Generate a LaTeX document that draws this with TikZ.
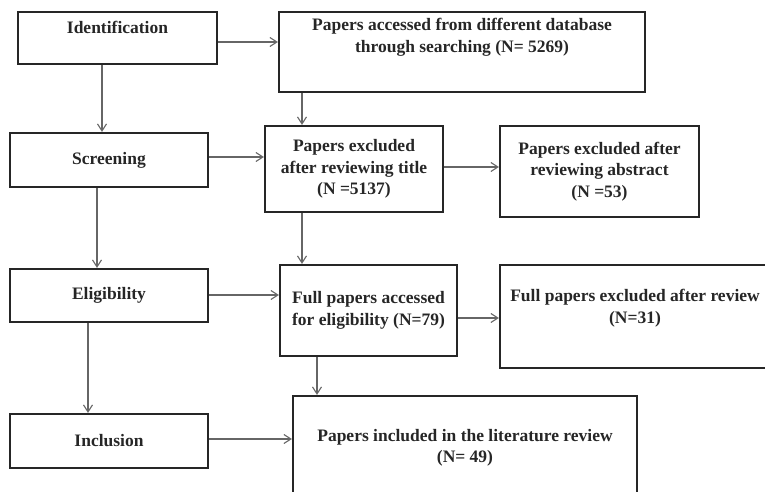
\documentclass[tikz,border=0pt]{standalone}
\usepackage{fontspec}
\setmainfont{Liberation Serif}
\usetikzlibrary{arrows.meta}

\begin{document}
\begin{tikzpicture}[x=1pt,y=-1pt,>={Straight Barb[length=7pt,width=9pt]},
    font=\fontsize{17.5}{21.5}\selectfont\bfseries,text=black!85,
    box/.style={draw=black!85,line width=2.2pt,align=center,inner sep=0pt},
    link/.style={->,draw=black!60,line width=1.1pt}]
    \useasboundingbox (0,0) rectangle (765,492);
    \clip (0,0) rectangle (765,492);
    \node[box,minimum width=199pt,minimum height=52pt,
        label={[name=identtext,yshift=11pt]center:Identification}] (ident) at (117.5,38) {};
    \node[box,minimum width=366pt,minimum height=80pt,
        label={[name=accesstext,yshift=14.5pt,align=center]center:Papers accessed from different database\\through searching (N= 5269)}] (access) at (462,52) {};
    \node[box,minimum width=198pt,minimum height=54pt] (screen) at (109,160) {Screening};
    \node[box,minimum width=178pt,minimum height=86pt] (extitle) at (354,169)
        {Papers excluded\\after reviewing title\\(N =5137)};
    \node[box,minimum width=199pt,minimum height=91pt] (exabs) at (599.5,171.5)
        {Papers excluded after\\reviewing abstract\\(N =53)};
    \node[box,minimum width=198pt,minimum height=53pt] (elig) at (109,295.5) {Eligibility};
    \node[box,minimum width=177pt,minimum height=91pt] (full) at (368.5,310.5)
        {Full papers accessed\\for eligibility (N=79)};
    \node[box,minimum width=270pt,minimum height=103pt,
        label={[name=exrevtext,yshift=8.5pt,align=center]center:Full papers excluded after review\\(N=31)}] (exrev) at (635,316.5) {};
    \node[box,minimum width=198pt,minimum height=54pt] (incl) at (109,441) {Inclusion};
    \node[box,minimum width=344pt,minimum height=104pt] (included) at (465,448)
        {Papers included in the literature review\\(N= 49)};

    \draw[link] ([yshift=-4pt]ident.east) -- ([yshift=10pt]access.west);
    \draw[link] ([xshift=-15.5pt]ident.south) -- ([xshift=-7pt]screen.north);
    \draw[link] ([xshift=-160pt]access.south) -- ([xshift=-52pt]extitle.north);
    \draw[link] ([yshift=3pt]screen.east) -- ([yshift=12pt]extitle.west);
    \draw[link] ([yshift=2pt]extitle.east) -- ([yshift=4.5pt]exabs.west);
    \draw[link] ([xshift=-12pt]screen.south) -- ([xshift=-12pt]elig.north);
    \draw[link] ([xshift=-52pt]extitle.south) -- ([xshift=-66.5pt]full.north);
    \draw[link] ([yshift=.5pt]elig.east) -- ([yshift=15.5pt]full.west);
    \draw[link] ([yshift=-7.5pt]full.east) -- ([yshift=-1.5pt]exrev.west);
    \draw[link] ([xshift=-21pt]elig.south) -- ([xshift=-21pt]incl.north);
    \draw[link] ([xshift=-51.5pt]full.south) -- ([xshift=-148pt]included.north);
    \draw[link] ([yshift=2pt]incl.east) -- ([yshift=9pt]included.west);
\end{tikzpicture}
\end{document}
